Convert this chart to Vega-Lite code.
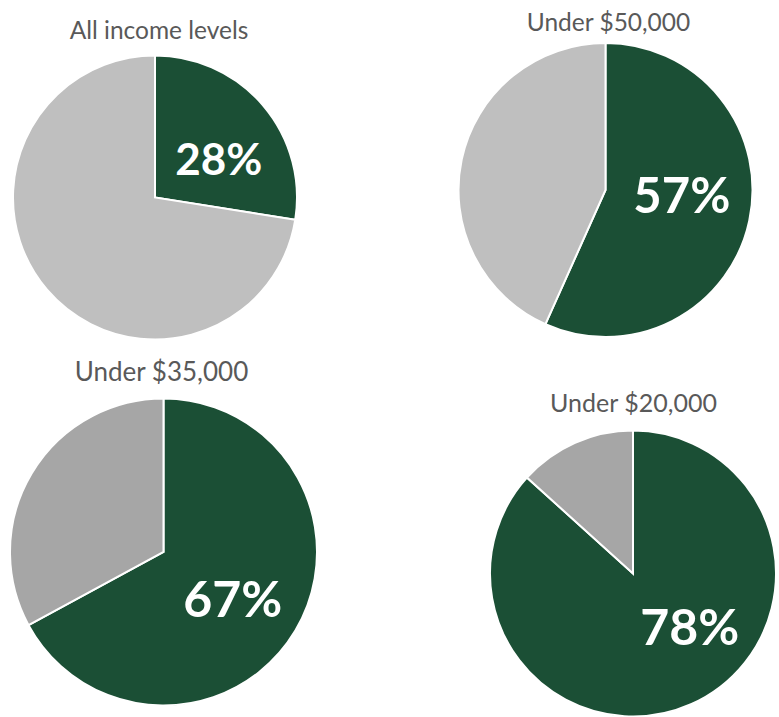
{
  "$schema": "https://vega.github.io/schema/vega-lite/v6.json",
  "padding": {"left": 0, "top": 10.5, "right": 0, "bottom": 0},
  "background": "white",
  "config": {"view": {"stroke": null}},
  "data": {"values": [
    {"pie": "All income levels", "segment": "Share", "ord": 1, "value": 27.5, "label": "28%"},
    {"pie": "All income levels", "segment": "Other", "ord": 2, "value": 72.5, "label": ""},
    {"pie": "Under $50,000", "segment": "Share", "ord": 1, "value": 56.7, "label": "57%"},
    {"pie": "Under $50,000", "segment": "Other", "ord": 2, "value": 43.3, "label": ""},
    {"pie": "Under $35,000", "segment": "Share", "ord": 1, "value": 67.1, "label": "67%"},
    {"pie": "Under $35,000", "segment": "Other", "ord": 2, "value": 32.9, "label": ""},
    {"pie": "Under $20,000", "segment": "Share", "ord": 1, "value": 86.7, "label": "78%"},
    {"pie": "Under $20,000", "segment": "Other", "ord": 2, "value": 13.3, "label": ""}
  ]},
  "columns": 2,
  "align": "each",
  "bounds": "flush",
  "spacing": {"column": 170, "row": 80},
  "resolve": {"scale": {"color": "independent", "theta": "independent"}},
  "concat": [
    {
      "width": 310, "height": 308,
      "title": {"text": "All income levels", "font": "Lato", "fontSize": 24.5, "fontWeight": "normal", "color": "#595959", "baseline": "alphabetic", "offset": -19.5, "anchor": "middle", "dx": 4},
      "transform": [{"filter": "datum.pie === 'All income levels'"}],
      "layer": [
        {"mark": {"type": "arc", "outerRadius": 142, "stroke": "white", "strokeWidth": 2},
         "encoding": {
           "theta": {"field": "value", "type": "quantitative", "stack": true},
           "color": {"field": "segment", "type": "nominal", "scale": {"domain": ["Share", "Other"], "range": ["#1b4f35", "#bfbfbf"]}, "legend": null},
           "order": {"field": "ord", "type": "quantitative"}}},
        {"mark": {"type": "text", "radius": 74, "dx": 7.5, "dy": 13, "font": "Lato", "fontWeight": "bold", "fontSize": 44, "fill": "white", "align": "center", "baseline": "middle"},
         "encoding": {
           "theta": {"field": "value", "type": "quantitative", "stack": true},
           "detail": {"field": "segment", "type": "nominal"},
           "order": {"field": "ord", "type": "quantitative"},
           "text": {"field": "label", "type": "nominal"}}}
      ]
    },
    {
      "width": 217, "height": 293,
      "title": {"text": "Under $50,000", "font": "Lato", "fontSize": 24.5, "fontWeight": "normal", "color": "#595959", "baseline": "alphabetic", "offset": -16, "anchor": "middle", "dx": 3},
      "transform": [{"filter": "datum.pie === 'Under $50,000'"}],
      "layer": [
        {"mark": {"type": "arc", "outerRadius": 147, "stroke": "white", "strokeWidth": 2},
         "encoding": {
           "theta": {"field": "value", "type": "quantitative", "stack": true},
           "color": {"field": "segment", "type": "nominal", "scale": {"domain": ["Share", "Other"], "range": ["#1b4f35", "#bfbfbf"]}, "legend": null},
           "order": {"field": "ord", "type": "quantitative"}}},
        {"mark": {"type": "text", "radius": 76, "dx": 2, "dy": -8, "font": "Lato", "fontWeight": "bold", "fontSize": 49, "fill": "white", "align": "center", "baseline": "middle"},
         "encoding": {
           "theta": {"field": "value", "type": "quantitative", "stack": true},
           "detail": {"field": "segment", "type": "nominal"},
           "order": {"field": "ord", "type": "quantitative"},
           "text": {"field": "label", "type": "nominal"}}}
      ]
    },
    {
      "width": 327, "height": 241,
      "title": {"text": "Under $35,000", "font": "Lato", "fontSize": 26, "fontWeight": "normal", "color": "#595959", "baseline": "alphabetic", "offset": -12.5, "anchor": "middle", "dx": -2},
      "transform": [{"filter": "datum.pie === 'Under $35,000'"}],
      "layer": [
        {"mark": {"type": "arc", "outerRadius": 153.5, "stroke": "white", "strokeWidth": 2},
         "encoding": {
           "theta": {"field": "value", "type": "quantitative", "stack": true},
           "color": {"field": "segment", "type": "nominal", "scale": {"domain": ["Share", "Other"], "range": ["#1b4f35", "#a6a6a6"]}, "legend": null},
           "order": {"field": "ord", "type": "quantitative"}}},
        {"mark": {"type": "text", "radius": 84, "dx": -3, "dy": 7.5, "font": "Lato", "fontWeight": "bold", "fontSize": 50, "fill": "white", "align": "center", "baseline": "middle"},
         "encoding": {
           "theta": {"field": "value", "type": "quantitative", "stack": true},
           "detail": {"field": "segment", "type": "nominal"},
           "order": {"field": "ord", "type": "quantitative"},
           "text": {"field": "label", "type": "nominal"}}}
      ]
    },
    {
      "width": 272, "height": 284,
      "title": {"text": "Under $20,000", "font": "Lato", "fontSize": 25, "fontWeight": "normal", "color": "#595959", "baseline": "alphabetic", "offset": -10.5, "anchor": "middle", "dx": 0.5},
      "transform": [{"filter": "datum.pie === 'Under $20,000'"}],
      "layer": [
        {"mark": {"type": "arc", "outerRadius": 143, "stroke": "white", "strokeWidth": 2},
         "encoding": {
           "theta": {"field": "value", "type": "quantitative", "stack": true},
           "color": {"field": "segment", "type": "nominal", "scale": {"domain": ["Share", "Other"], "range": ["#1b4f35", "#a6a6a6"]}, "legend": null},
           "order": {"field": "ord", "type": "quantitative"}}},
        {"mark": {"type": "text", "radius": 78, "dx": 25, "dy": -15, "font": "Lato", "fontWeight": "bold", "fontSize": 50, "fill": "white", "align": "center", "baseline": "middle"},
         "encoding": {
           "theta": {"field": "value", "type": "quantitative", "stack": true},
           "detail": {"field": "segment", "type": "nominal"},
           "order": {"field": "ord", "type": "quantitative"},
           "text": {"field": "label", "type": "nominal"}}}
      ]
    }
  ]
}
